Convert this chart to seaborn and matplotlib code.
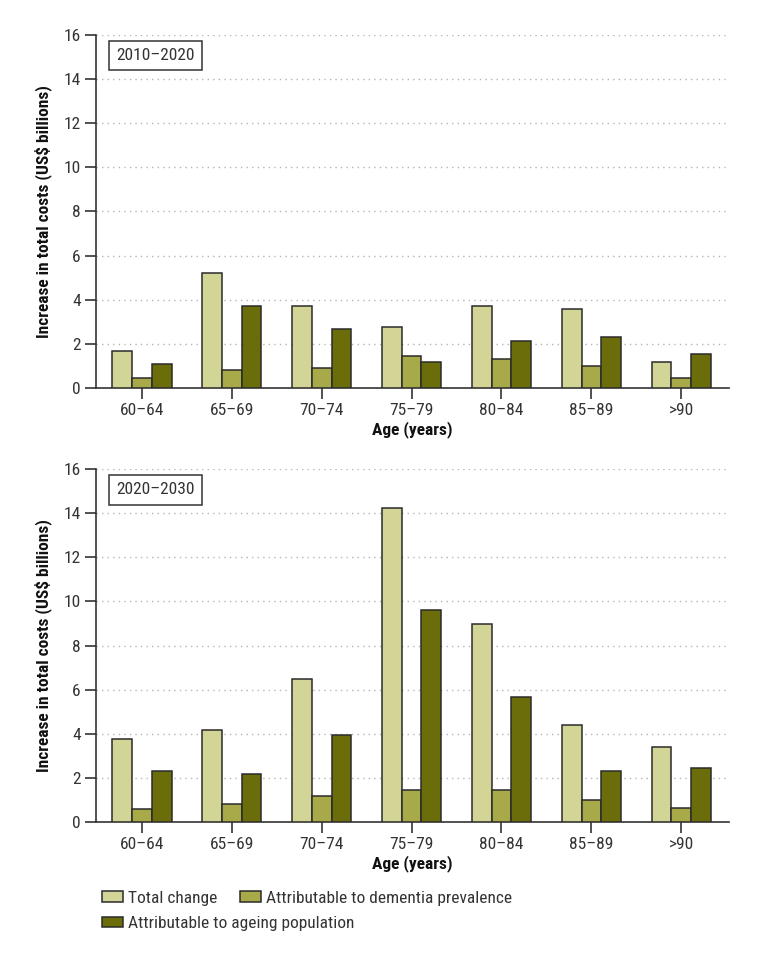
import matplotlib
matplotlib.use("Agg")
import matplotlib.pyplot as plt
import matplotlib.patches as mpatches
import pandas as pd
import seaborn as sns

age_groups = ["60–64", "65–69", "70–74", "75–79", "80–84", "85–89", ">90"]
series_names = ["Total change", "Attributable to dementia prevalence",
                "Attributable to ageing population"]

total_2010 = [1.66, 5.21, 3.73, 2.78, 3.73, 3.60, 1.16]
prevalence_2010 = [0.45, 0.80, 0.91, 1.45, 1.31, 1.00, 0.47]
ageing_2010 = [1.07, 3.73, 2.66, 1.16, 2.14, 2.31, 1.54]

total_2020 = [3.74, 4.18, 6.49, 14.23, 8.99, 4.39, 3.38]
prevalence_2020 = [0.56, 0.80, 1.15, 1.44, 1.44, 0.98, 0.64]
ageing_2020 = [2.32, 2.15, 3.94, 9.61, 5.65, 2.32, 2.42]

colores = ["#d3d596", "#a8aa4a", "#6a6d0a"]
borde = "#2b2b2b"

sns.set_theme(style="white")
plt.rcParams["font.family"] = ["Roboto Condensed", "Roboto", "DejaVu Sans"]


def armar_df(total, prevalencia, envejecimiento):
    filas = []
    for serie, valores in zip(series_names, [total, prevalencia, envejecimiento]):
        for edad, v in zip(age_groups, valores):
            filas.append({"Age": edad, "Serie": serie, "Valor": v})
    return pd.DataFrame(filas)


def dibujar_panel(ax, df, etiqueta):
    sns.barplot(data=df, x="Age", y="Valor", hue="Serie", order=age_groups,
                hue_order=series_names, palette=colores, saturation=1,
                width=0.66, edgecolor=borde, linewidth=1.1, legend=False,
                ax=ax, zorder=3)
    ax.set_xlim(-0.51, 6.53)
    ax.set_ylim(0, 16)
    ax.set_yticks(range(0, 17, 2))
    for y in range(2, 17, 2):
        ax.axhline(y, color="#b5b5b5", linestyle=(0, (1, 3)), linewidth=1.0, zorder=1)
    for lado in ["top", "right"]:
        ax.spines[lado].set_visible(False)
    for lado in ["left", "bottom"]:
        ax.spines[lado].set_color("#333333")
        ax.spines[lado].set_linewidth(1.2)
    ax.tick_params(axis="both", direction="out", length=8, width=1.2,
                   color="#333333", labelsize=12.5, labelcolor="#333333",
                   bottom=True, left=True, pad=3)
    ax.set_xlabel("Age (years)", fontsize=12.5, fontweight="bold", labelpad=2,
                  color="#111111")
    ax.set_ylabel("Increase in total costs (US$ billions)", fontsize=12.5,
                  fontweight="bold", labelpad=8, color="#111111")
    ax.text(0.032, 0.942, etiqueta, transform=ax.transAxes, fontsize=12.5,
            color="#333333", ha="left", va="center",
            bbox=dict(boxstyle="square,pad=0.42", facecolor="white",
                      edgecolor="#333333", linewidth=1.1), zorder=5)


fig = plt.figure(figsize=(7.71, 9.58), dpi=100)
ax1 = fig.add_axes([0.1245, 0.595, 0.821, 0.3685])
ax2 = fig.add_axes([0.1245, 0.1423, 0.821, 0.3678])

dibujar_panel(ax1, armar_df(total_2010, prevalence_2010, ageing_2010), "2010–2020")
dibujar_panel(ax2, armar_df(total_2020, prevalence_2020, ageing_2020), "2020–2030")

parches = [mpatches.Patch(facecolor=c, edgecolor=borde, linewidth=1.1, label=n)
           for c, n in zip(colores, series_names)]
estilo = dict(frameon=False, fontsize=12.5, handlelength=1.2, handleheight=0.55,
              handletextpad=0.3, columnspacing=1.3, borderpad=0, borderaxespad=0,
              labelcolor="#333333")
fig.legend(handles=parches[:2], ncol=2, loc="center left",
           bbox_to_anchor=(0.132, 0.0625), **estilo)
fig.legend(handles=parches[2:], ncol=1, loc="center left",
           bbox_to_anchor=(0.132, 0.036), **estilo)

plt.savefig("out.png", dpi=100)
plt.close()
